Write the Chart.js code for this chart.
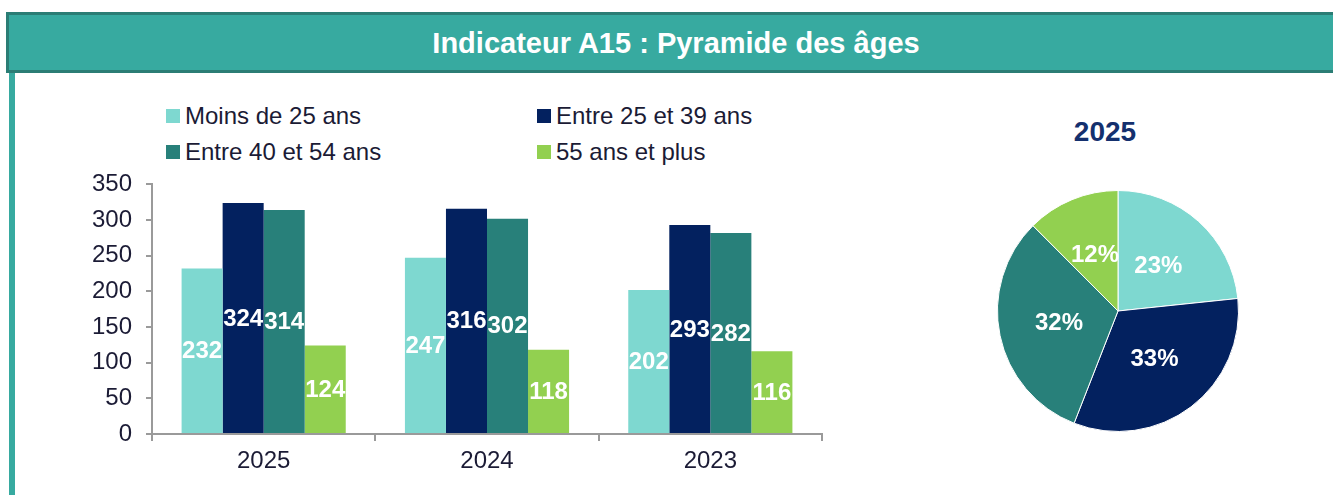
<!DOCTYPE html>
<html lang="fr">
<head>
<meta charset="utf-8">
<script src="https://cdn.jsdelivr.net/npm/chart.js@4.4.0/dist/chart.umd.min.js"></script>
<style>
  body { margin: 0; width: 1333px; height: 495px; overflow: hidden; background: #fff;
         font-family: 'Liberation Sans', Arial, sans-serif; position: relative; }
  #header { position: absolute; left: 6px; top: 12px; width: 1340px; height: 61px; box-sizing: border-box;
            background: #37aaa0; border: 3px solid #2b7d75; color: #fff; font-weight: bold;
            font-size: 29px; text-align: center; line-height: 56px; }
  #sideline { position: absolute; left: 9px; top: 73px; width: 6px; height: 422px; background: #37aaa0; }
  .leg { position: absolute; font-size: 24px; color: #1b1b35; line-height: 28px; white-space: nowrap; }
  .leg span { display: inline-block; width: 14px; height: 14px; margin-right: 5px; vertical-align: 1px; }
  #barWrap { position: absolute; left: 80px; top: 156px; width: 752px; height: 328px; }
  #pieWrap { position: absolute; left: 990px; top: 183px; width: 256px; height: 256px; }
  #pieTitle { position: absolute; left: 1005px; width: 200px; top: 116px; text-align: center;
              font-size: 28px; font-weight: bold; color: #14306e; }
</style>
</head>
<body>
<div id="header">Indicateur A15 : Pyramide des âges</div>
<div id="sideline"></div>
<div id="legend"></div>
<div id="barWrap"><canvas id="barChart"></canvas></div>
<div id="pieTitle"></div>
<div id="pieWrap"><canvas id="pieChart"></canvas></div>
<script>
const categories = ['2025', '2024', '2023'];
const seriesNames = ['Moins de 25 ans', 'Entre 25 et 39 ans', 'Entre 40 et 54 ans', '55 ans et plus'];
const moins25 = [232, 247, 202];
const entre25et39 = [324, 316, 293];
const entre40et54 = [314, 302, 282];
const plus55 = [124, 118, 116];
const colors = ['#7ed8d0', '#03215f', '#28807a', '#92d050'];

const allSeries = [moins25, entre25et39, entre40et54, plus55];
const police = "'Liberation Sans', Arial, sans-serif";
const texte = '#1b1b35';

// legende 2 x 2
const legPos = [[166, 102], [537, 102], [166, 138], [537, 138]];
const legend = document.getElementById('legend');
seriesNames.forEach(function (nom, i) {
    const d = document.createElement('div');
    d.className = 'leg';
    d.style.left = legPos[i][0] + 'px';
    d.style.top = legPos[i][1] + 'px';
    d.innerHTML = '<span style="background:' + colors[i] + '"></span>' + nom;
    legend.appendChild(d);
});

const barLabels = {
    id: 'barLabels',
    afterDatasetsDraw(chart) {
        const c = chart.ctx;
        c.save();
        c.fillStyle = '#fff';
        c.font = 'bold 24px ' + police;
        c.textAlign = 'center';
        c.textBaseline = 'middle';
        chart.data.datasets.forEach(function (ds, i) {
            chart.getDatasetMeta(i).data.forEach(function (bar, j) {
                c.fillText(ds.data[j], bar.x, (bar.y + bar.base) / 2 + 1);
            });
        });
        c.restore();
    }
};

new Chart(document.getElementById('barChart'), {
    type: 'bar',
    data: {
        labels: categories,
        datasets: seriesNames.map(function (nom, i) {
            return { label: nom, data: allSeries[i], backgroundColor: colors[i], borderWidth: 0 };
        })
    },
    options: {
        responsive: true,
        maintainAspectRatio: false,
        animation: false,
        categoryPercentage: 0.735,
        barPercentage: 1.0,
        layout: { padding: { top: 0, right: 10 } },
        plugins: { legend: { display: false }, tooltip: { enabled: false } },
        scales: {
            x: {
                afterFit: function (s) { s.height = 50; },
                grid: { drawOnChartArea: false, tickLength: 7, color: '#9a9a9a', lineWidth: 2 },
                border: { color: '#9a9a9a', width: 2 },
                ticks: { color: texte, font: { family: police, size: 24 }, padding: 6 }
            },
            y: {
                min: 0,
                max: 350,
                afterFit: function (s) { s.width = 72; },
                grid: { drawOnChartArea: false, tickLength: 6, color: '#9a9a9a', lineWidth: 2 },
                border: { color: '#9a9a9a', width: 2 },
                ticks: { stepSize: 50, color: texte, font: { family: police, size: 24 }, padding: 14 }
            }
        }
    },
    plugins: [barLabels]
});

// camembert de la premiere annee
const pieData = allSeries.map(function (s) { return s[0]; });
document.getElementById('pieTitle').textContent = categories[0];

const pieLabels = {
    id: 'pieLabels',
    afterDatasetsDraw(chart) {
        const c = chart.ctx;
        const data = chart.data.datasets[0].data;
        const total = data.reduce(function (a, b) { return a + b; }, 0);
        c.save();
        c.fillStyle = '#fff';
        c.font = 'bold 24px ' + police;
        c.textAlign = 'center';
        c.textBaseline = 'middle';
        chart.getDatasetMeta(0).data.forEach(function (arc, i) {
            const p = arc.tooltipPosition();
            c.fillText(Math.round(data[i] / total * 100) + '%', p.x, p.y);
        });
        c.restore();
    }
};

new Chart(document.getElementById('pieChart'), {
    type: 'pie',
    data: {
        labels: seriesNames,
        datasets: [{ data: pieData, backgroundColor: colors, borderColor: '#ffffff', borderWidth: 1 }]
    },
    options: {
        responsive: true,
        maintainAspectRatio: false,
        animation: false,
        layout: { padding: 7 },
        plugins: { legend: { display: false }, tooltip: { enabled: false } }
    },
    plugins: [pieLabels]
});
</script>
</body>
</html>
